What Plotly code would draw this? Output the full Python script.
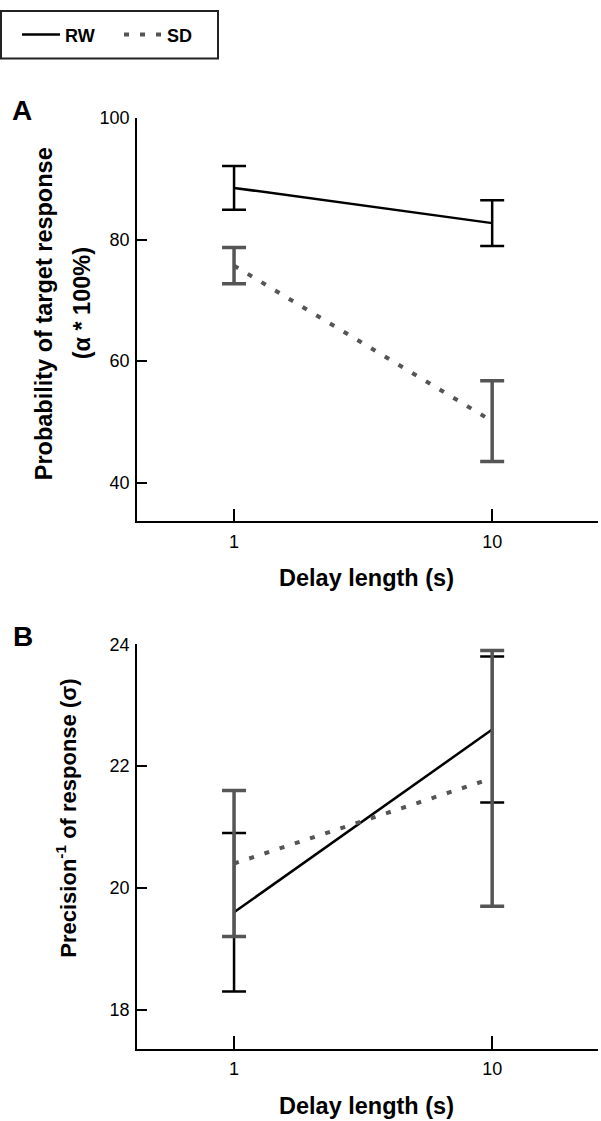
import plotly.graph_objects as go

# ---- data ----
delays = [1, 10]
delay_labels = ["1", "10"]

rw_alpha = [88.5, 82.7]
rw_alpha_err = [3.6, 3.75]
sd_alpha = [75.7, 50.1]
sd_alpha_err = [3.0, 6.65]

rw_sigma = [19.6, 22.6]
rw_sigma_err = [1.3, 1.2]
sd_sigma = [20.4, 21.8]
sd_sigma_err = [1.2, 2.1]

alpha_ticks = [40, 60, 80, 100]
sigma_ticks = [18, 20, 22, 24]

# ---- styling ----
W, H = 601, 1121
BLACK = "#000000"
GRAY = "#555555"
FONT = "Liberation Sans, Arial, sans-serif"


def px(x):
    return x / W


def py(y):
    return 1 - y / H


fig = go.Figure()


def add_series(xaxis, yaxis, rw, rw_err, sd, sd_err, show):
    fig.add_trace(go.Scatter(
        x=delays, y=rw, mode="lines", name="RW", showlegend=show, legendgroup="rw",
        line=dict(color=BLACK, width=2.5),
        error_y=dict(type="data", array=rw_err, visible=True, color=BLACK, thickness=2.5, width=12),
        xaxis=xaxis, yaxis=yaxis,
    ))
    fig.add_trace(go.Scatter(
        x=delays, y=sd, mode="lines", name="SD", showlegend=show, legendgroup="sd",
        line=dict(color=GRAY, width=4, dash="5px,11px"),
        error_y=dict(type="data", array=sd_err, visible=True, color=GRAY, thickness=3.5, width=12),
        xaxis=xaxis, yaxis=yaxis,
    ))


add_series("x", "y", rw_alpha, rw_alpha_err, sd_alpha, sd_alpha_err, True)
add_series("x2", "y2", rw_sigma, rw_sigma_err, sd_sigma, sd_sigma_err, False)

xdom = [px(137), px(598)]
xcommon = dict(
    type="log", range=[-0.376, 1.41], domain=xdom,
    tickvals=delays, ticktext=delay_labels,
    ticks="inside", ticklen=13, tickwidth=1.5, tickcolor=BLACK,
    showline=True, linecolor=BLACK, linewidth=1.5,
    showgrid=False, zeroline=False,
    tickfont=dict(family=FONT, size=18, color=BLACK),
    ticklabelstandoff=3,
)
ycommon = dict(
    ticks="inside", ticklen=10, tickwidth=1.5, tickcolor=BLACK,
    showline=True, linecolor=BLACK, linewidth=1.5,
    showgrid=False, zeroline=False,
    tickfont=dict(family=FONT, size=18, color=BLACK),
    ticklabelstandoff=2,
)

fig.update_layout(
    width=W, height=H,
    margin=dict(l=0, r=0, t=0, b=0),
    paper_bgcolor="white", plot_bgcolor="white",
    xaxis=dict(**xcommon, anchor="y"),
    yaxis=dict(**ycommon, domain=[py(516), py(109)], range=[33.6, 100],
               tickvals=alpha_ticks, anchor="x"),
    xaxis2=dict(**xcommon, anchor="y2"),
    yaxis2=dict(**ycommon, domain=[py(1048), py(640)], range=[17.36, 24],
                tickvals=sigma_ticks, anchor="x2"),
    legend=dict(
        orientation="h", x=px(17), y=py(25), xanchor="left", yanchor="middle",
        xref="paper", yref="paper",
        font=dict(family=FONT, size=18, color=BLACK, weight="bold"),
        bgcolor="rgba(0,0,0,0)", borderwidth=0,
        entrywidth=49, entrywidthmode="pixels",
        itemwidth=38,
    ),
    showlegend=True,
)

# legend frame
fig.add_shape(type="rect", xref="paper", yref="paper",
              x0=px(1), x1=px(218), y0=py(49), y1=py(1),
              line=dict(color="#222222", width=2), fillcolor="rgba(0,0,0,0)")

ann_bold = dict(family=FONT, color=BLACK, weight="bold")


def ann(text, x, y, size, angle=0, xanchor="center", yanchor="middle"):
    fig.add_annotation(text=text, x=px(x), y=py(y), xref="paper", yref="paper",
                       showarrow=False, textangle=angle, xanchor=xanchor, yanchor=yanchor,
                       font=dict(**ann_bold, size=size))


ann("A", 10, 101, 28, xanchor="left")
ann("B", 11, 632, 28, xanchor="left")
ann("Probability of target response", 44, 307, 23.5, angle=-90)
ann("(α * 100%)", 82, 296, 23.5, angle=-90)
ann("Precision<sup>-1</sup> of response (σ)", 66, 816, 22, angle=-90)
ann("Delay length (s)", 366, 573, 23.5)
ann("Delay length (s)", 366, 1121, 23.5, yanchor="bottom")

fig.write_html(
    "out.html",
    config={"displayModeBar": False},
    post_script="document.body.style.margin='0';document.body.style.overflow='hidden';",
)
